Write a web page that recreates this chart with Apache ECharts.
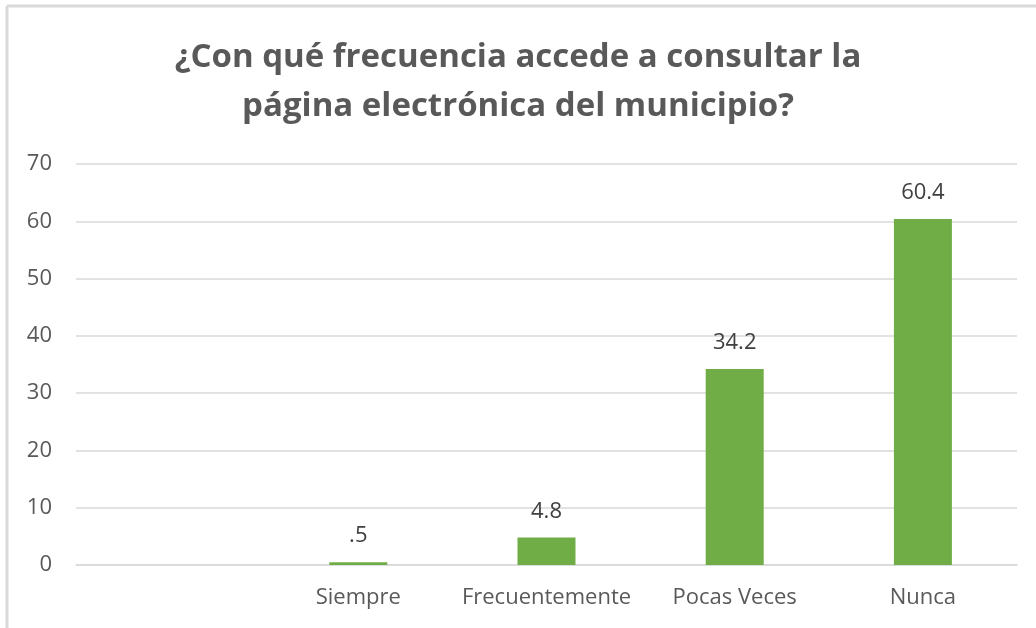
<!DOCTYPE html>
<html>
<head>
<meta charset="utf-8">
<script src="https://cdn.jsdelivr.net/npm/echarts@6/dist/echarts.min.js"></script>
<style>
  html, body { margin: 0; padding: 0; background: #fff; }
  #bar { width: 1036px; height: 628px; }
</style>
</head>
<body>
<div id="bar"></div>
<script>
// datos del gráfico
let categorias = ['', 'Siempre', 'Frecuentemente', 'Pocas Veces', 'Nunca'];
let valores = [null, 0.5, 4.8, 34.2, 60.4];
let titulo = '¿Con qué frecuencia accede a consultar la\npágina electrónica del municipio?';

let myBarChart = echarts.init(document.getElementById('bar'));

let barOption = {
    backgroundColor: '#ffffff',
    animation: false,
    title: {
        text: titulo,
        left: 'center',
        top: 28,
        textStyle: {
            fontFamily: 'Open Sans',
            fontSize: 33,
            fontWeight: 'bold',
            color: '#595959',
            lineHeight: 49
        }
    },
    // marco del área del gráfico (arriba e izquierda)
    graphic: [{
        type: 'line',
        shape: { x1: 7, y1: 6, x2: 1036, y2: 6 },
        style: { stroke: '#d9d9d9', lineWidth: 3 }
    }, {
        type: 'line',
        shape: { x1: 7, y1: 6, x2: 7, y2: 628 },
        style: { stroke: '#d9d9d9', lineWidth: 3 }
    }],
    grid: {
        left: 76,
        right: 19,
        top: 164,
        bottom: 63
    },
    xAxis: {
        type: 'category',
        data: categorias,
        axisLine: { show: true, lineStyle: { color: '#d9d9d9', width: 1.5 } },
        axisTick: { show: false },
        axisLabel: {
            interval: 0,
            margin: 22,
            fontFamily: 'Open Sans',
            fontSize: 22,
            color: '#595959'
        }
    },
    yAxis: {
        type: 'value',
        min: 0,
        max: 70,
        interval: 10,
        axisLine: { show: false },
        axisTick: { show: false },
        axisLabel: {
            margin: 24,
            fontFamily: 'Open Sans',
            fontSize: 22,
            color: '#595959'
        },
        splitLine: { lineStyle: { color: '#d9d9d9', width: 1.5 } }
    },
    series: [{
        name: 'frecuencia',
        type: 'bar',
        data: valores,
        barWidth: 58,
        itemStyle: { color: '#70ad47' },
        label: {
            show: true,
            position: 'top',
            distance: 15,
            fontFamily: 'Open Sans',
            fontSize: 22,
            color: '#404040',
            formatter: function(p) {
                // Excel muestra 0.5 como ".5"
                return String(p.value).replace(/^0\./, '.');
            }
        }
    }]
};

myBarChart.setOption(barOption);
</script>
</body>
</html>
